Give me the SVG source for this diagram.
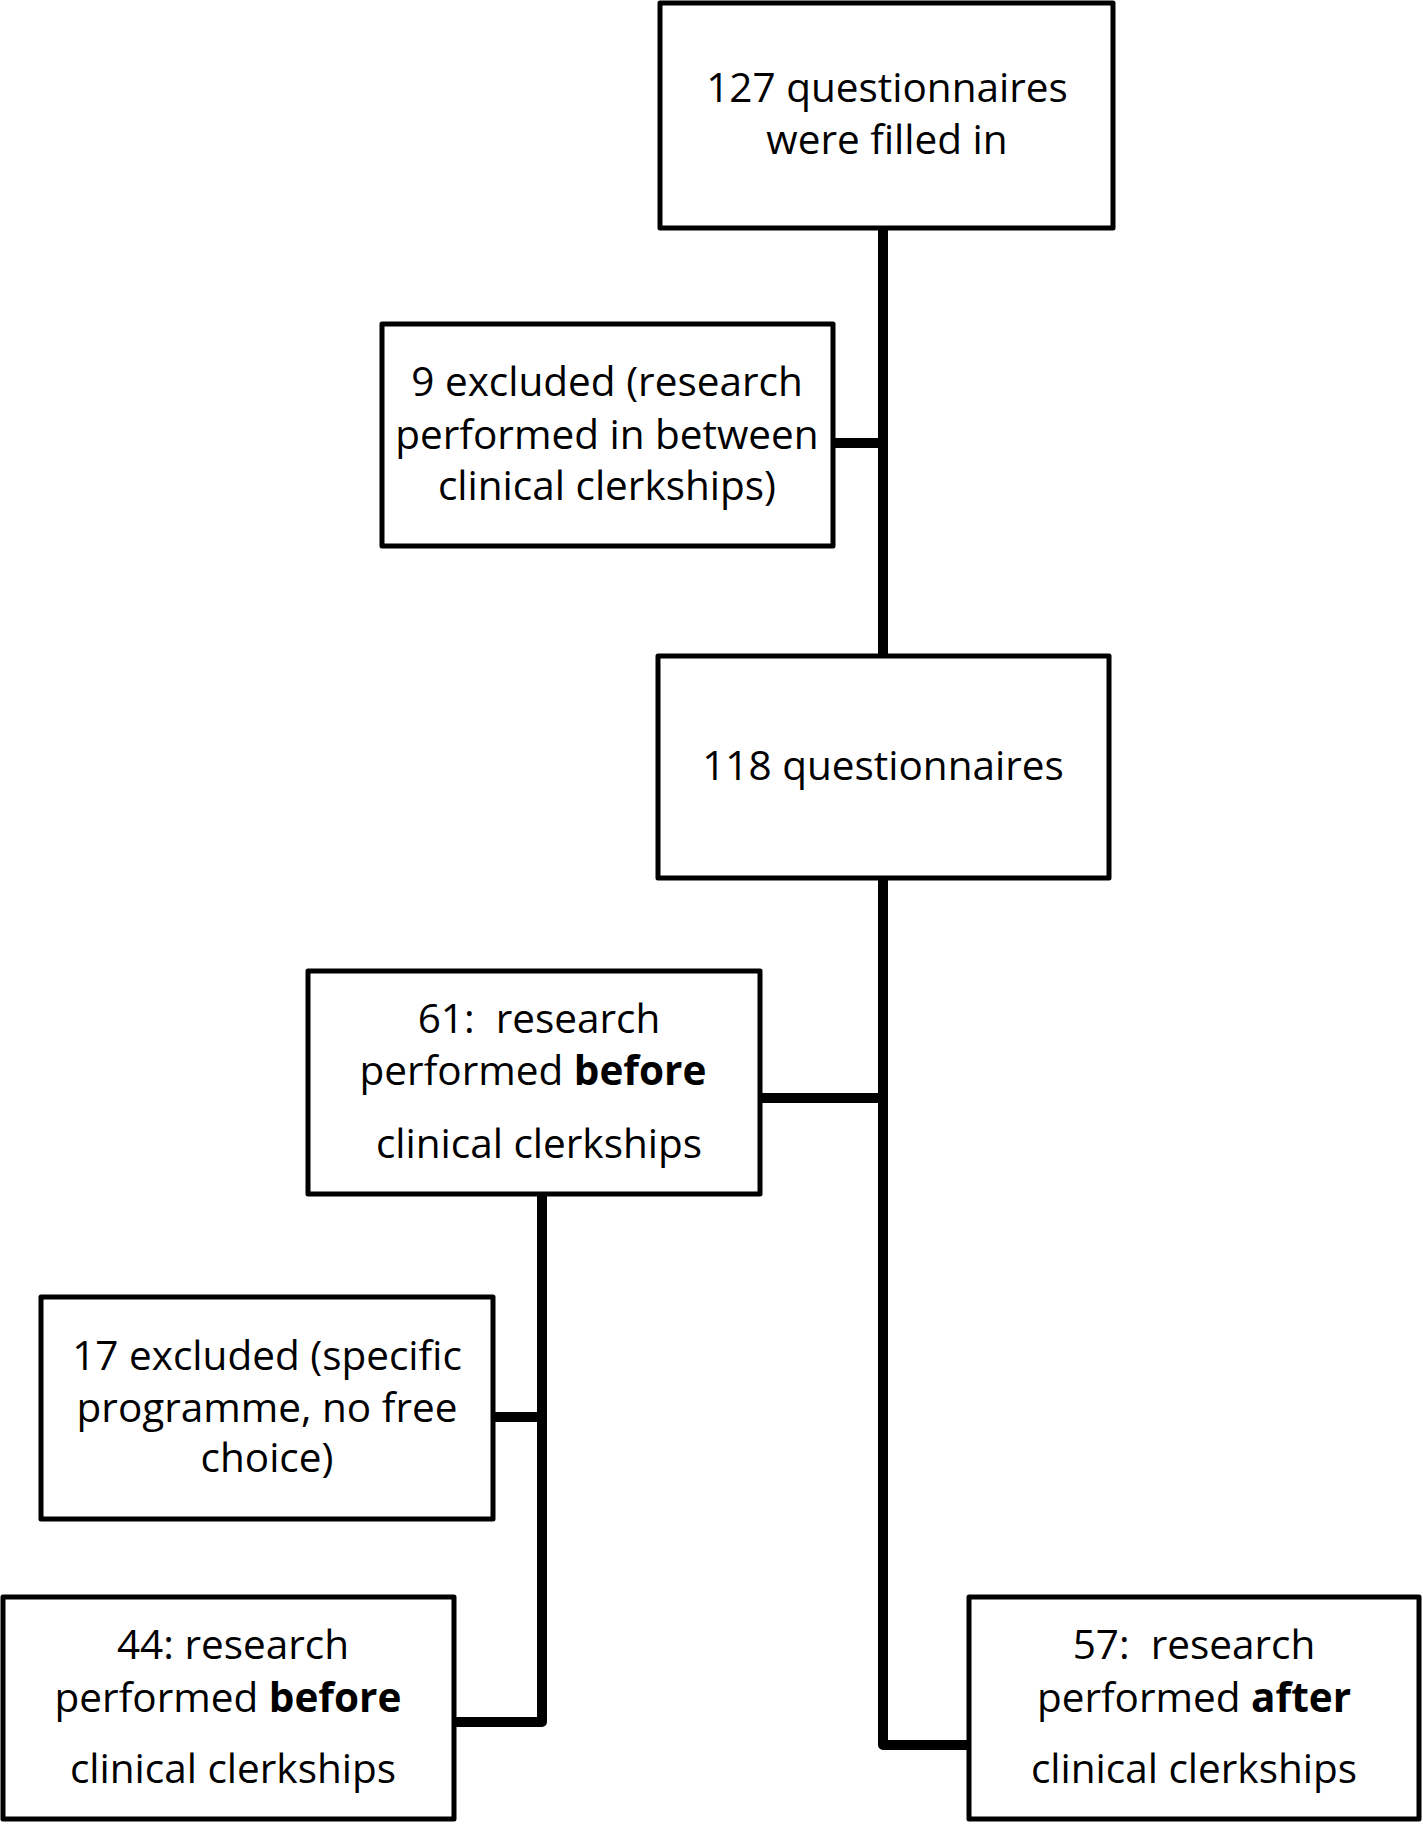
<svg xmlns="http://www.w3.org/2000/svg" width="1423" height="1824" viewBox="0 0 1423 1824">
<style>
.box{fill:#fff;stroke:#000;stroke-width:5;stroke-linejoin:round}
.t{font-family:"Open Sans","Noto Sans",sans-serif;font-size:40.5px;fill:#000;text-anchor:middle;white-space:pre}
.b{font-weight:bold}
.c{fill:none;stroke:#000;stroke-width:10;stroke-linejoin:round}
</style>
<rect width="1423" height="1824" fill="#fff"/>
<g id="connectors">
<path class="c" d="M883 230 V656"/>
<path class="c" d="M832 443 H883"/>
<path class="c" d="M883 879 V1745 H970"/>
<path class="c" d="M760 1098 H883"/>
<path class="c" d="M542 1194 V1722 H452"/>
<path class="c" d="M492 1417 H542"/>
</g>
<g id="n1">
<rect class="box" x="660" y="3" width="453" height="225"/>
<text class="t" x="887" y="102">127 questionnaires</text>
<text class="t" x="887" y="154">were filled in</text>
</g>
<g id="n2">
<rect class="box" x="382" y="324" width="451" height="222"/>
<text class="t" x="607" y="396">9 excluded (research</text>
<text class="t" x="607" y="449">performed in between</text>
<text class="t" x="607" y="500">clinical clerkships)</text>
</g>
<g id="n3">
<rect class="box" x="658" y="656" width="451" height="222"/>
<text class="t" x="883" y="780">118 questionnaires</text>
</g>
<g id="n4">
<rect class="box" x="308" y="971" width="452" height="223"/>
<text class="t" x="539" y="1033">61:  research</text>
<text class="t" x="533" y="1085">performed <tspan class="b">before</tspan></text>
<text class="t" x="539" y="1158">clinical clerkships</text>
</g>
<g id="n5">
<rect class="box" x="41" y="1297" width="452" height="222"/>
<text class="t" x="267" y="1370">17 excluded (specific</text>
<text class="t" x="267" y="1422">programme, no free</text>
<text class="t" x="267" y="1472">choice)</text>
</g>
<g id="n6">
<rect class="box" x="3" y="1597" width="451" height="222"/>
<text class="t" x="233" y="1659">44: research</text>
<text class="t" x="228" y="1712">performed <tspan class="b">before</tspan></text>
<text class="t" x="233" y="1783">clinical clerkships</text>
</g>
<g id="n7">
<rect class="box" x="969" y="1597" width="450" height="222"/>
<text class="t" x="1194" y="1659">57:  research</text>
<text class="t" x="1194" y="1712">performed <tspan class="b">after</tspan></text>
<text class="t" x="1194" y="1783">clinical clerkships</text>
</g>
</svg>
